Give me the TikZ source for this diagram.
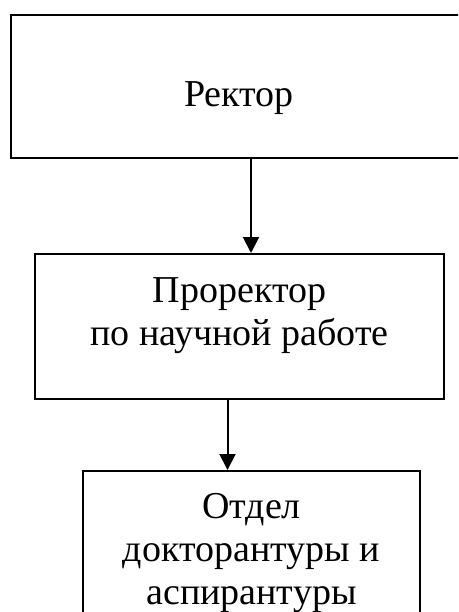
\documentclass[tikz,border=0pt]{standalone}
\usepackage{fontspec}
\setmainfont{Liberation Serif}
\usetikzlibrary{arrows.meta}

\begin{document}
\begin{tikzpicture}[x=1pt, y=-1pt, line width=2pt]
  \tikzset{
    unit/.style={draw, rectangle, inner sep=0pt, align=center, anchor=north west,
      font=\fontsize{38}{43}\selectfont},
    link/.style={-{Triangle[width=16pt,length=16pt]}, line width=2pt}
  }
  \useasboundingbox (0,0) rectangle (458,612);
  \clip (0,0) rectangle (458,612);

  \node[unit, minimum width=456pt, text height=92pt, text depth=51pt] (rector) at (10,14) {Ректор};
  \node[unit, minimum width=409pt, text height=91pt, text depth=54pt] (prorector) at (34,253)
    {Проректор\\по научной работе};
  \node[unit, minimum width=337pt, text height=133pt, text depth=40pt] (dept) at (82,470)
    {Отдел\\докторантуры и\\аспирантуры};

  \draw[link] ([xshift=12pt]rector.south) -- ([xshift=12pt]rector.south |- prorector.north);
  \draw[link] ([xshift=-12pt]prorector.south) -- ([xshift=-12pt]prorector.south |- dept.north);
\end{tikzpicture}
\end{document}
